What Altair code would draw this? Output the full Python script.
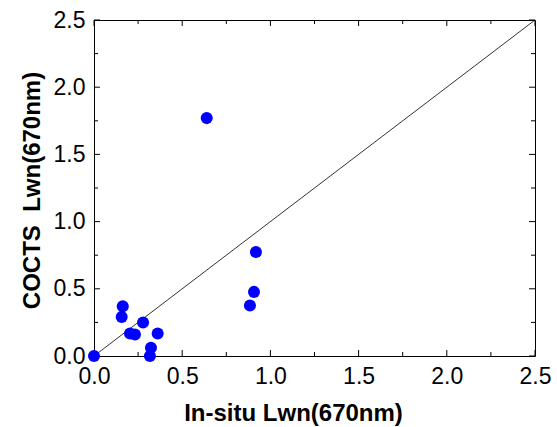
import altair as alt
import pandas as pd

# Matchup points: in-situ vs COCTS water-leaving radiance at 670 nm
insitu = [0.0, 0.639, 0.918, 0.907, 0.884, 0.163, 0.157, 0.278, 0.204, 0.232, 0.361, 0.323, 0.317]
cocts = [0.0, 1.77, 0.774, 0.477, 0.375, 0.37, 0.291, 0.249, 0.167, 0.16, 0.167, 0.061, 0.0]

major_ticks = [0.0, 0.5, 1.0, 1.5, 2.0, 2.5]
minor_ticks = [0.25, 0.75, 1.25, 1.75, 2.25]
one_to_one = [0.0, 2.5]

W, H = 441, 336
FONT = "Liberation Sans"

pts = pd.DataFrame({"x": insitu, "y": cocts})
line_df = pd.DataFrame({"x": one_to_one, "y": one_to_one})
maj = pd.DataFrame({"v": major_ticks})
mino = pd.DataFrame({"v": minor_ticks})

xs = alt.Scale(domain=[0, 2.5], nice=False, zero=False, padding=0)
ys = alt.Scale(domain=[0, 2.5], nice=False, zero=False, padding=0)

xaxis = alt.Axis(
    values=major_ticks, format=".1f", ticks=False, domain=False, grid=False,
    labelFlush=False, labelOverlap=False,
    labelFont=FONT, labelFontSize=23, labelColor="black", labelPadding=9,
    title="In-situ Lwn(670nm)", titleFont=FONT, titleFontSize=24,
    titleFontWeight="bold", titleColor="black", titleX=199, titleY=64,
    titleBaseline="alphabetic",
)
yaxis = alt.Axis(
    values=major_ticks, format=".1f", ticks=False, domain=False, grid=False,
    labelFlush=False, labelOverlap=False,
    labelFont=FONT, labelFontSize=23, labelColor="black", labelPadding=9,
    title="COCTS\u00a0\u00a0Lwn(670nm)", titleFont=FONT, titleFontSize=24,
    titleFontWeight="bold", titleColor="black", titleX=-62, titleY=170,
    titleBaseline="middle",
)

diag = alt.Chart(line_df).mark_line(color="#333333", strokeWidth=1).encode(
    x=alt.X("x:Q", scale=xs, axis=xaxis),
    y=alt.Y("y:Q", scale=ys, axis=yaxis),
)


def tick_layers(df, length):
    base = alt.Chart(df).mark_rule(color="black", strokeWidth=1)
    bottom = base.encode(x=alt.X("v:Q", scale=xs), y=alt.value(H), y2=alt.value(H - length))
    top = base.encode(x=alt.X("v:Q", scale=xs), y=alt.value(0), y2=alt.value(length))
    left = base.encode(y=alt.Y("v:Q", scale=ys), x=alt.value(0), x2=alt.value(length))
    right = base.encode(y=alt.Y("v:Q", scale=ys), x=alt.value(W), x2=alt.value(W - length))
    return [bottom, top, left, right]


points = alt.Chart(pts).mark_circle(
    color="#0000ff", opacity=1, size=145, clip=False
).encode(
    x=alt.X("x:Q", scale=xs),
    y=alt.Y("y:Q", scale=ys),
)

chart = alt.layer(
    diag, *tick_layers(maj, 6), *tick_layers(mino, 4), points
).properties(
    width=W, height=H,
    autosize=alt.AutoSizeParams(type="none"),
    padding={"left": 94, "top": 20, "right": 22, "bottom": 71},
    background="white",
).configure_view(
    stroke="black", strokeWidth=1
)

chart.save("out.html", embed_options={"renderer": "svg", "actions": False})
